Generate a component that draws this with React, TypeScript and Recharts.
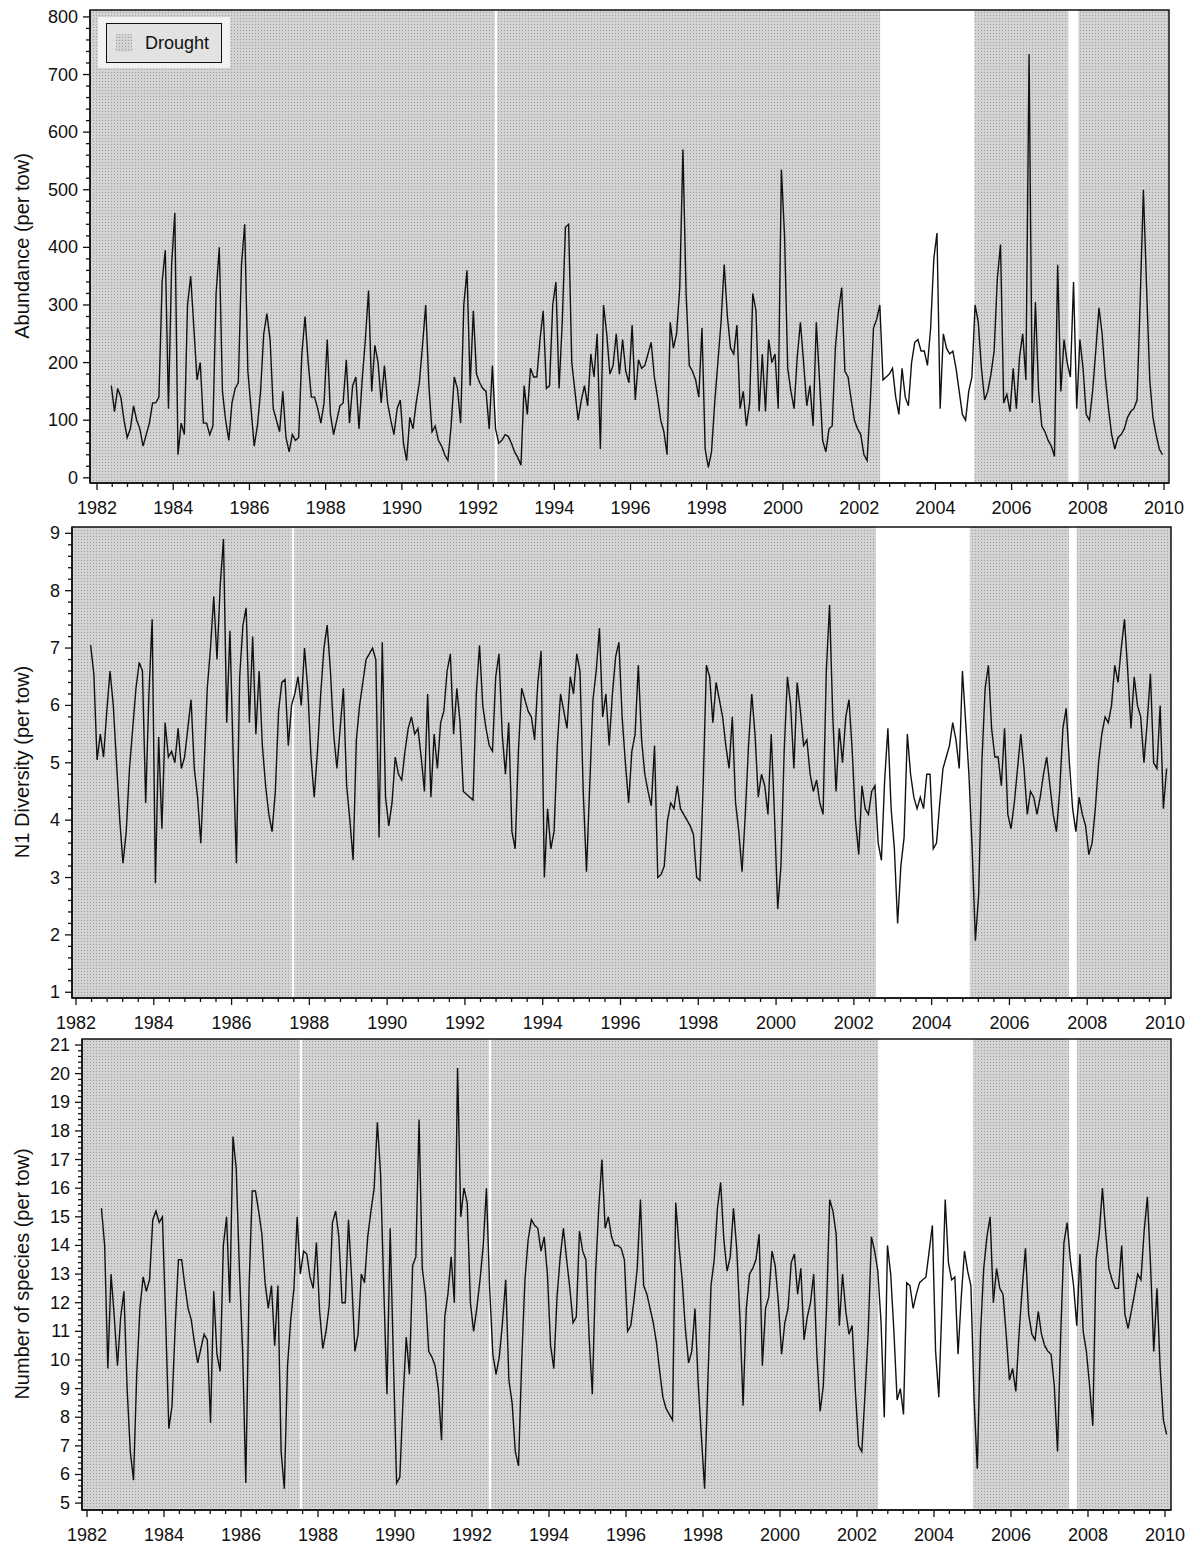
import React from 'react';
import { LineChart, Line, XAxis, YAxis, ReferenceArea, Legend } from 'recharts';

// Monthly samples starting May 1982
const START_YEAR = 1982.375;
const STEP = 1 / 12;

const abundance = [
  160, 115, 155, 140, 100, 70, 85, 125,
  100, 85, 55, 75, 95, 130, 130, 140, 340, 395, 120, 370,
  460, 40, 95, 75, 300, 350, 260, 170, 200, 95, 95, 75,
  90, 320, 400, 150, 100, 65, 130, 155, 165, 370, 440, 185,
  120, 55, 90, 150, 250, 285, 240, 120, 100, 80, 150, 70,
  45, 75, 65, 70, 215, 280, 200, 140, 140, 120, 95, 130,
  240, 110, 75, 100, 125, 130, 205, 95, 160, 175, 85, 170,
  240, 325, 150, 230, 200, 130, 195, 130, 100, 75, 120, 135,
  60, 30, 105, 85, 130, 165, 230, 300, 160, 80, 90, 65,
  55, 40, 30, 90, 175, 155, 95, 300, 360, 160, 290, 180,
  165, 155, 150, 85, 195, 85, 60, 65, 75, 72, 60, 45,
  35, 22, 160, 110, 190, 175, 175, 240, 290, 155, 160, 300,
  340, 155, 270, 435, 440, 200, 150, 100, 135, 160, 125, 215,
  175, 250, 50, 300, 250, 180, 195, 250, 180, 240, 185, 165,
  265, 135, 205, 190, 195, 215, 235, 175, 140, 100, 80, 40,
  270, 225, 250, 330, 570, 320, 195, 185, 170, 140, 260, 50,
  18, 45, 130, 200, 270, 370, 280, 225, 215, 265, 120, 150,
  90, 130, 320, 290, 115, 215, 115, 240, 200, 215, 120, 535,
  420, 190, 150, 120, 210, 270, 200, 125, 160, 90, 270, 170,
  65, 45, 85, 90, 225, 290, 330, 185, 175, 135, 100, 85,
  75, 40, 30, 130, 260, 275, 300, 170, 175, 180, 190, 140,
  110, 190, 140, 125, 200, 235, 240, 220, 220, 195, 260, 380,
  425, 120, 250, 225, 215, 220, 190, 150, 110, 100, 150, 175,
  300, 270, 190, 135, 150, 180, 220, 345, 405, 130, 145, 115,
  190, 120, 210, 250, 170, 735, 130, 305, 150, 90, 80, 65,
  55, 37, 370, 150, 240, 200, 175, 340, 120, 240, 190, 110,
  100, 150, 220, 295, 250, 175, 120, 75, 50, 70, 75, 85,
  105, 115, 120, 135, 310, 500, 330, 170, 105, 75, 50, 40,
];

const diversity = [
  7.05, 6.55, 5.05, 5.5, 5.1, 5.9, 6.6, 6.0,
  5.0, 4.0, 3.25, 3.8, 4.9, 5.6, 6.3, 6.75, 6.6, 4.3, 6.2, 7.5,
  2.9, 5.45, 3.85, 5.7, 5.1, 5.2, 5.0, 5.6, 4.9, 5.1, 5.6, 6.1,
  4.9, 4.4, 3.6, 4.9, 6.3, 7.0, 7.9, 6.8, 8.1, 8.9, 5.7, 7.3,
  5.1, 3.25, 6.5, 7.4, 7.7, 5.7, 7.2, 5.5, 6.6, 5.3, 4.6, 4.1,
  3.8, 4.5, 5.9, 6.4, 6.45, 5.3, 6.0, 6.2, 6.5, 6.0, 7.0, 6.3,
  5.1, 4.4, 5.2, 6.2, 7.0, 7.4, 6.6, 5.5, 4.9, 5.6, 6.3, 4.6,
  4.0, 3.3, 5.4, 6.0, 6.4, 6.8, 6.9, 7.0, 6.8, 3.7, 7.1, 4.4,
  3.9, 4.3, 5.1, 4.8, 4.7, 5.2, 5.6, 5.8, 5.5, 5.6, 5.1, 4.5,
  6.2, 4.4, 5.5, 4.9, 5.7, 5.9, 6.6, 6.9, 5.5, 6.3, 5.7, 4.5,
  4.45, 4.4, 4.35, 6.2, 7.05, 6.0, 5.6, 5.3, 5.2, 6.5, 6.9, 5.5,
  4.8, 5.7, 3.8, 3.5, 5.2, 6.3, 6.1, 5.9, 5.8, 5.4, 6.4, 6.95,
  3.0, 4.2, 3.5, 3.8, 5.3, 6.2, 5.9, 5.6, 6.5, 6.2, 6.9, 6.6,
  4.5, 3.1, 4.6, 6.1, 6.6, 7.35, 5.8, 6.2, 5.3, 6.2, 6.85, 7.1,
  5.8, 5.0, 4.3, 5.2, 5.5, 6.7, 5.4, 4.8, 4.5, 4.25, 5.3, 3.0,
  3.05, 3.2, 4.0, 4.3, 4.2, 4.6, 4.2, 4.1, 4.0, 3.9, 3.75, 3.0,
  2.95, 4.6, 6.7, 6.5, 5.7, 6.4, 6.1, 5.8, 5.3, 4.9, 5.8, 4.3,
  3.8, 3.1, 4.1, 5.3, 6.2, 5.5, 4.4, 4.8, 4.6, 4.1, 5.5, 4.1,
  2.45, 3.2, 5.2, 6.5, 6.0, 4.9, 6.4, 5.9, 5.3, 5.4, 4.8, 4.5,
  4.7, 4.3, 4.1, 6.6, 7.75, 5.8, 4.5, 5.6, 5.0, 5.8, 6.1, 5.2,
  4.0, 3.4, 4.6, 4.2, 4.1, 4.5, 4.6, 3.6, 3.3, 4.7, 5.6, 4.2,
  3.5, 2.2, 3.2, 3.7, 5.5, 4.8, 4.4, 4.2, 4.4, 4.2, 4.8, 4.8,
  3.5, 3.6, 4.3, 4.9, 5.1, 5.3, 5.7, 5.4, 4.9, 6.6, 5.7, 4.8,
  3.5, 1.9, 2.7, 5.0, 6.3, 6.7, 5.6, 5.1, 5.1, 4.6, 5.6, 4.1,
  3.85, 4.3, 4.9, 5.5, 4.9, 4.1, 4.5, 4.4, 4.1, 4.4, 4.8, 5.1,
  4.6, 4.1, 3.8, 4.5, 5.6, 5.95, 5.0, 4.2, 3.8, 4.4, 4.1, 3.9,
  3.4, 3.6, 4.2, 5.0, 5.5, 5.8, 5.7, 6.0, 6.7, 6.4, 7.0, 7.5,
  6.6, 5.6, 6.5, 6.0, 5.8, 5.0, 5.7, 6.55, 5.0, 4.9, 6.0, 4.2,
  4.9,
];

const species = [
  15.3, 14.0, 9.7, 13.0, 11.5, 9.8, 11.5, 12.4,
  9.0, 6.8, 5.8, 9.5, 11.8, 12.9, 12.4, 12.8, 14.9, 15.2, 14.8, 15.0,
  11.5, 7.6, 8.4, 11.2, 13.5, 13.5, 12.6, 11.8, 11.4, 10.6, 9.9, 10.4,
  10.9, 10.7, 7.8, 12.4, 10.2, 9.6, 14.0, 15.0, 12.0, 17.8, 16.7, 13.2,
  10.3, 5.7, 12.5, 15.9, 15.9, 15.2, 14.4, 12.7, 11.8, 12.6, 10.5, 12.6,
  6.8, 5.5, 9.8, 11.4, 12.5, 15.0, 13.0, 13.8, 13.7, 12.9, 12.5, 14.1,
  11.7, 10.4, 11.0, 11.9, 14.8, 15.2, 14.3, 12.0, 12.0, 14.9, 12.8, 10.3,
  10.9, 13.0, 12.7, 14.3, 15.2, 16.0, 18.3, 16.5, 12.5, 8.8, 14.6, 10.0,
  5.7, 5.9, 8.6, 10.8, 9.5, 13.3, 13.6, 18.4, 13.2, 12.3, 10.3, 10.1,
  9.8, 9.0, 7.2, 11.5, 12.3, 13.6, 12.0, 20.2, 15.0, 16.0, 15.5, 12.0,
  11.0, 11.8, 12.8, 14.0, 16.0, 12.5, 10.2, 9.5, 10.1, 11.3, 12.8, 9.3,
  8.5, 6.8, 6.3, 10.0, 12.8, 14.2, 14.9, 14.7, 14.6, 13.8, 14.3, 13.0,
  10.5, 9.7, 12.2, 13.6, 14.6, 13.5, 12.5, 11.3, 11.5, 14.5, 13.8, 13.5,
  10.8, 8.8, 13.0, 15.3, 17.0, 14.6, 15.0, 14.3, 14.0, 14.0, 13.9, 13.5,
  11.0, 11.2, 12.1, 13.2, 15.6, 12.6, 12.3, 11.8, 11.3, 10.6, 9.6, 8.7,
  8.3, 8.1, 7.9, 15.5, 14.0, 12.8, 11.1, 9.9, 10.3, 11.8, 9.2, 7.3,
  5.5, 9.2, 12.6, 13.5, 15.3, 16.2, 14.2, 13.1, 13.6, 15.3, 13.9, 11.5,
  8.4, 11.8, 13.0, 13.2, 13.5, 14.4, 9.8, 11.8, 12.2, 13.8, 13.3, 12.0,
  10.2, 11.3, 11.8, 13.4, 13.7, 12.3, 13.2, 10.7, 11.5, 12.0, 13.0, 10.2,
  8.2, 9.1, 11.8, 15.6, 15.2, 14.4, 11.2, 13.0, 11.7, 10.9, 11.2, 8.9,
  7.0, 6.8, 8.8, 11.0, 14.3, 13.8, 13.1, 11.3, 8.0, 14.0, 13.0, 11.0,
  8.6, 9.0, 8.1, 12.7, 12.6, 11.8, 12.3, 12.7, 12.8, 12.9, 13.8, 14.7,
  10.3, 8.7, 12.0, 15.6, 13.4, 12.8, 12.9, 10.2, 12.2, 13.8, 13.1, 12.6,
  8.6, 6.2, 10.9, 13.2, 14.3, 15.0, 12.0, 13.2, 12.5, 12.3, 10.9, 9.3,
  9.7, 8.9, 10.9, 12.5, 13.9, 11.6, 10.9, 10.7, 11.7, 10.9, 10.5, 10.3,
  10.2, 9.1, 6.8, 10.9, 14.1, 14.8, 13.5, 12.6, 11.2, 13.7, 11.0, 10.3,
  9.1, 7.7, 13.5, 14.4, 16.0, 14.5, 13.2, 12.8, 12.5, 12.5, 14.0, 11.6,
  11.1, 11.7, 12.3, 13.0, 12.8, 14.5, 15.7, 13.3, 10.3, 12.5, 9.7, 7.9,
  7.4,
];

const yearLabels = [1982, 1984, 1986, 1988, 1990, 1992, 1994, 1996, 1998, 2000, 2002, 2004, 2006, 2008, 2010];
const abundanceLabels = [0, 100, 200, 300, 400, 500, 600, 700, 800];
const diversityLabels = [1, 2, 3, 4, 5, 6, 7, 8, 9];
const speciesLabels = [5, 6, 7, 8, 9, 10, 11, 12, 13, 14, 15, 16, 17, 18, 19, 20, 21];

const droughtAbundance = [[1981.816, 1992.44], [1992.5, 2002.55], [2005.02, 2007.49], [2007.75, 2010.13]];
const droughtDiversity = [[1981.897, 1987.55], [1987.61, 2002.57], [2004.98, 2007.53], [2007.73, 2010.154]];
const droughtSpecies = [[1981.87, 1987.53], [1987.59, 1992.44], [1992.5, 2002.55], [2005.01, 2007.51], [2007.71, 2010.156]];

const FONT = '"Liberation Sans", Arial, sans-serif';
const SHADE = 'url(#droughtDots)';

function buildTicks(lo: number, hi: number, step: number) {
  const out: number[] = [];
  const n = Math.round((hi - lo) / step);
  for (let k = 0; k <= n; k++) out.push(+(lo + k * step).toFixed(4));
  return out;
}

function toData(values: number[]) {
  return values.map((v, i) => ({ t: START_YEAR + i * STEP, v }));
}

const isIn = (arr: number[], v: number) => arr.some((m) => Math.abs(m - v) < 1e-6);

const XTick = (props: any) => {
  const { x, y, payload, majors } = props;
  const v = payload.value;
  const major = isIn(majors, v);
  return (
    <g>
      <line x1={x} y1={y} x2={x} y2={y + (major ? 7 : 4)} stroke="#111" strokeWidth={1.3} />
      {major && (
        <text x={x} y={y + 25} textAnchor="middle" dominantBaseline="central" fontSize={18} fontFamily={FONT} fill="#111">
          {v}
        </text>
      )}
    </g>
  );
};

const YTick = (props: any) => {
  const { x, y, payload, majors } = props;
  const v = payload.value;
  const major = isIn(majors, v);
  return (
    <g>
      <line x1={x - (major ? 7 : 4)} y1={y} x2={x} y2={y} stroke="#111" strokeWidth={1.3} />
      {major && (
        <text x={x - 12} y={y} textAnchor="end" dominantBaseline="central" fontSize={18} fontFamily={FONT} fill="#111">
          {Math.round(v)}
        </text>
      )}
    </g>
  );
};

const YTitle = (props: any) => {
  const { text, cy } = props;
  const cx = 22;
  return (
    <text x={cx} y={cy} transform={`rotate(-90 ${cx} ${cy})`} textAnchor="middle" dominantBaseline="central" fontSize={20} fontFamily={FONT} fill="#111">
      {text}
    </text>
  );
};

const DroughtLegend = () => (
  <div style={{ width: 132, height: 51, background: '#f1f1f1', boxSizing: 'border-box', padding: '6px 8px' }}>
    <div style={{ width: 116, height: 40, border: '1.5px solid #111', boxSizing: 'border-box', background: '#e2e2e2', display: 'flex', alignItems: 'center' }}>
      <svg width={16} height={18} style={{ marginLeft: 9, marginRight: 13 }}>
        <rect width={16} height={18} fill={SHADE} />
      </svg>
      <span style={{ fontFamily: FONT, fontSize: 18, color: '#111' }}>Drought</span>
    </div>
  </div>
);

type PanelProps = {
  values: number[];
  top: number;
  height: number;
  margin: { top: number; right: number; bottom: number; left: number };
  xDomain: [number, number];
  yDomain: [number, number];
  yMajors: number[];
  yStep: number;
  title: string;
  titleCy: number;
  droughts: number[][];
  legend?: boolean;
};

const xTicks = buildTicks(1982, 2010, 0.4);

const Panel = (p: PanelProps) => {
  const data = toData(p.values);
  const yTicks = buildTicks(p.yMajors[0], p.yMajors[p.yMajors.length - 1], p.yStep);
  return (
    <div style={{ position: 'absolute', left: 0, top: p.top }}>
      <LineChart width={1189} height={p.height} data={data} margin={p.margin}>
        {p.droughts.map((d, i) => (
          <ReferenceArea key={i} x1={d[0]} x2={d[1]} y1={p.yDomain[0]} y2={p.yDomain[1]} fill={SHADE} fillOpacity={1} stroke="none" ifOverflow="hidden" />
        ))}
        <XAxis
          dataKey="t"
          type="number"
          domain={p.xDomain}
          allowDataOverflow
          ticks={xTicks}
          interval={0}
          tickSize={0}
          tickMargin={0}
          tickLine={false}
          height={30}
          axisLine={{ stroke: '#111', strokeWidth: 1.5 }}
          tick={(tp: any) => <XTick {...tp} majors={yearLabels} />}
        />
        <YAxis
          type="number"
          domain={p.yDomain}
          allowDataOverflow
          ticks={yTicks}
          interval={0}
          tickSize={0}
          tickMargin={0}
          tickLine={false}
          width={30}
          axisLine={{ stroke: '#111', strokeWidth: 1.5 }}
          tick={(tp: any) => <YTick {...tp} majors={p.yMajors} />}
          label={<YTitle text={p.title} cy={p.titleCy} />}
        />
        <ReferenceArea x1={p.xDomain[0]} x2={p.xDomain[1]} y1={p.yDomain[0]} y2={p.yDomain[1]} fill="none" stroke="#111" strokeWidth={1.5} />
        <Line type="linear" dataKey="v" stroke="#111" strokeWidth={1.4} dot={false} isAnimationActive={false} />
        {p.legend && (
          <Legend
            layout="horizontal"
            verticalAlign="middle"
            align="center"
            content={() => <DroughtLegend />}
            wrapperStyle={{ position: 'absolute', left: 98, top: 17, width: 132, height: 51 }}
          />
        )}
      </LineChart>
    </div>
  );
};

export default function App() {
  return (
    <div style={{ position: 'absolute', left: 0, top: 0, width: 1189, height: 1549, background: '#fff', overflow: 'hidden' }}>
      <svg width={0} height={0} style={{ position: 'absolute' }}>
        <defs>
          <pattern id="droughtDots" width={3} height={3} patternUnits="userSpaceOnUse">
            <rect width={3} height={3} fill="#d3d3d3" />
            <rect width={1} height={1} fill="#9e9e9e" />
          </pattern>
        </defs>
      </svg>
      <Panel
        values={abundance}
        top={0}
        height={530}
        margin={{ top: 10, right: 20, bottom: 17, left: 60 }}
        xDomain={[1981.816, 2010.13]}
        yDomain={[-9, 812]}
        yMajors={abundanceLabels}
        yStep={20}
        title="Abundance (per tow)"
        titleCy={246}
        droughts={droughtAbundance}
        legend
      />
      <Panel
        values={diversity}
        top={515}
        height={520}
        margin={{ top: 12, right: 18, bottom: 7, left: 42 }}
        xDomain={[1981.897, 2010.154]}
        yDomain={[0.9, 9.11]}
        yMajors={diversityLabels}
        yStep={0.2}
        title="N1 Diversity (per tow)"
        titleCy={247}
        droughts={droughtDiversity}
      />
      <Panel
        values={species}
        top={1035}
        height={514}
        margin={{ top: 4, right: 18, bottom: 9, left: 52 }}
        xDomain={[1981.87, 2010.156]}
        yDomain={[4.76, 21.21]}
        yMajors={speciesLabels}
        yStep={0.2}
        title="Number of species (per tow)"
        titleCy={239}
        droughts={droughtSpecies}
      />
    </div>
  );
}
